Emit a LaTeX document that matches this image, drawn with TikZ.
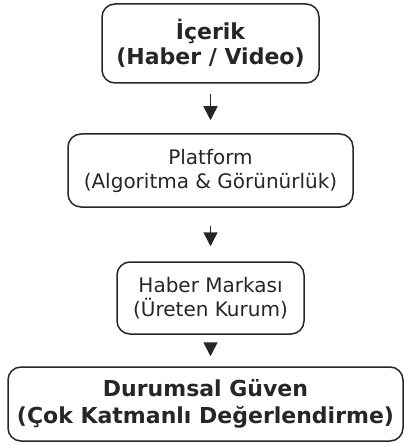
\documentclass[tikz,border=0pt]{standalone}
\usepackage{fontspec}
\setmainfont{DejaVu Sans}
\usetikzlibrary{arrows.meta, calc}
\definecolor{line-gray}{HTML}{262626}

\begin{document}
\begin{tikzpicture}[x=1pt, y=-1pt,
	box/.style={draw=line-gray, line width=1.5pt, rounded corners=13pt, align=center, text=line-gray, inner sep=0pt},
	flow/.style={-{Triangle[width=14pt, length=14pt]}, line width=1.5pt, line-gray},
	]
	\useasboundingbox (0,0) rectangle (405,446);

	\node[box, minimum width=217pt, minimum height=79pt, font=\fontsize{22}{25.5}\selectfont\bfseries] at (210.5, 43.5) (icerik) {İçerik\\(Haber / Video)};
	\node[box, minimum width=285pt, minimum height=73pt, font=\fontsize{20}{24}\selectfont] at (210.5, 170.5) (platform) {Platform\\(Algoritma \& Görünürlük)};
	\node[box, minimum width=187pt, minimum height=72pt, font=\fontsize{20}{24}\selectfont] at (210.5, 298) (marka) {Haber Markası\\(Üreten Kurum)};
	\node[box, minimum width=395pt, minimum height=74pt, font=\fontsize{22}{26.5}\selectfont\bfseries] at (205.5, 404) (guven) {Durumsal Güven\\(Çok Katmanlı Değerlendirme)};

	\draw[flow, shorten <=10pt, shorten >=13pt] (icerik) -- (platform);
	\draw[flow, shorten <=18pt, shorten >=15pt] (platform) -- (marka);
	\draw[flow, shorten <=9pt, shorten >=10pt] (marka.south) -- (marka.south |- guven.north);
\end{tikzpicture}
\end{document}
